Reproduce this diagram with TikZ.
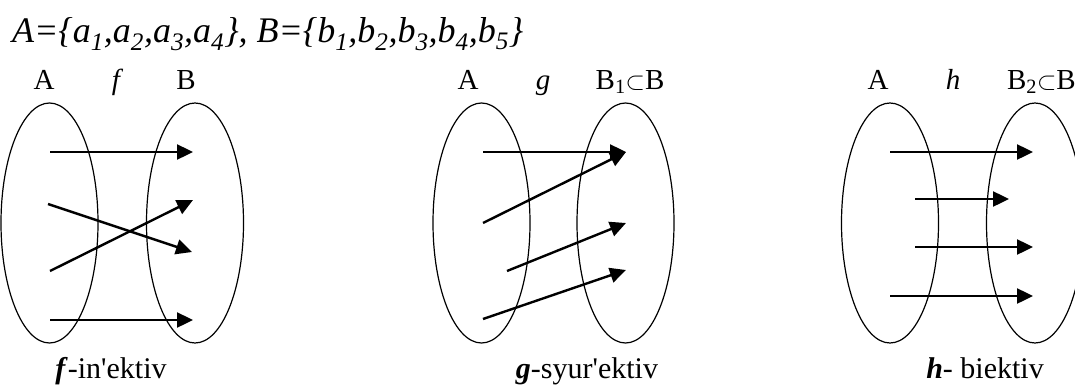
\documentclass[tikz,border=0pt]{standalone}
\usepackage{fontspec}
\setmainfont{Liberation Serif}
\usetikzlibrary{shapes.geometric,arrows.meta}
\begin{document}
\begin{tikzpicture}[x=1pt,y=-1pt,
  setell/.style={draw,ellipse,line width=1.2pt,minimum width=97pt,minimum height=240pt,inner sep=0pt},
  lbl/.style={anchor=base,inner sep=0pt,font=\fontsize{29}{32}\selectfont},
  captxt/.style={anchor=base,inner sep=0pt,font=\fontsize{30}{33}\selectfont},
  map/.style={line width=2.4pt,-{Triangle[length=16pt,width=15pt]}}]
\useasboundingbox (0,0) rectangle (1075,388);
\clip (0,0) rectangle (1075,388);
% title
\node[anchor=base west,inner sep=0pt,font=\fontsize{36}{40}\selectfont\itshape] (title) at (12,42)
  {A=\{a\textsubscript{1},a\textsubscript{2},a\textsubscript{3},a\textsubscript{4}\}, B=\{b\textsubscript{1},b\textsubscript{2},b\textsubscript{3},b\textsubscript{4},b\textsubscript{5}\}};
% ---------- f ----------
\node[setell] (fA) at (49.5,223) {};
\node[setell] (fB) at (195,223) {};
\node[lbl] (fAl) at (44,89) {A};
\node[lbl] (ffl) at (116,89) {\itshape f};
\node[lbl] (fBl) at (186,89) {B};
\node[captxt] (fcap) at (111,378) {\textbf{\itshape f}-in\textquotesingle ektiv};
\coordinate (fa1) at (50,152); \coordinate (fb1) at (193,152);
\coordinate (fa2) at (48,204); \coordinate (fb2) at (192,252);
\coordinate (fa3) at (50,271); \coordinate (fb3) at (193,200);
\coordinate (fa4) at (50,320); \coordinate (fb4) at (193,320);
\draw[map] (fa1) -- (fb1);
\draw[map] (fa2) -- (fb2);
\draw[map] (fa3) -- (fb3);
\draw[map] (fa4) -- (fb4);
% ---------- g ----------
\node[setell] (gA) at (481.5,223) {};
\node[setell] (gB) at (625.5,223) {};
\node[lbl] (gAl) at (468,89) {A};
\node[lbl] (ggl) at (543,89) {\itshape g};
\node[lbl] (gBl) at (630,89) {B\textsubscript{1}$\subset$B};
\node[captxt] (gcap) at (587,378) {\textbf{\itshape g}-syur\textquotesingle ektiv};
\coordinate (ga1) at (483,152); \coordinate (gb1) at (626,152);
\coordinate (ga2) at (483,223);
\coordinate (ga3) at (507,271); \coordinate (gb3) at (626,223);
\coordinate (ga4) at (483,319); \coordinate (gb4) at (626,270);
\draw[map] (ga1) -- (gb1);
\draw[map] (ga2) -- (gb1);
\draw[map] (ga3) -- (gb3);
\draw[map] (ga4) -- (gb4);
% ---------- h ----------
\node[setell] (hA) at (890,223) {};
\node[setell] (hB) at (1035,223) {};
\node[lbl] (hAl) at (878,89) {A};
\node[lbl] (hhl) at (953,89) {\itshape h};
\node[lbl,anchor=base east] (hBl) at (1076,89) {B\textsubscript{2}$\subset$B};
\node[captxt] (hcap) at (985,378) {\textbf{\itshape h}- biektiv};
\coordinate (ha1) at (890,152); \coordinate (hb1) at (1033,152);
\coordinate (ha2) at (915,199); \coordinate (hb2) at (1009,199);
\coordinate (ha3) at (915,247); \coordinate (hb3) at (1033,247);
\coordinate (ha4) at (890,296); \coordinate (hb4) at (1033,296);
\draw[map] (ha1) -- (hb1);
\draw[map] (ha2) -- (hb2);
\draw[map] (ha3) -- (hb3);
\draw[map] (ha4) -- (hb4);
\end{tikzpicture}
\end{document}
